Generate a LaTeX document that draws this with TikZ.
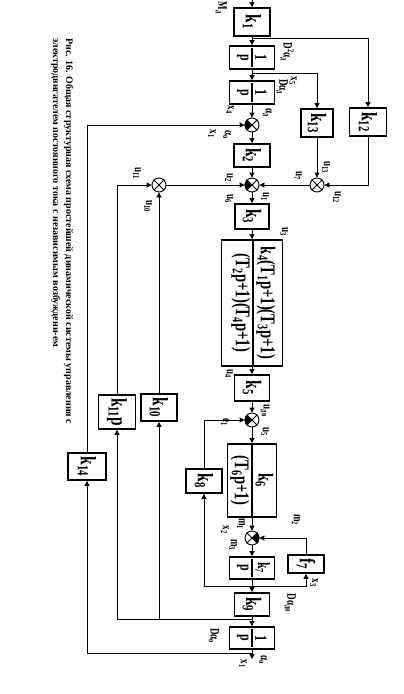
\documentclass[tikz,border=0pt]{standalone}
\usepackage{fontspec}
\setmainfont{Liberation Serif}
\newfontfamily\dgf[FakeStretch=0.7]{Liberation Serif}
\usetikzlibrary{arrows.meta}
\newcommand\crossj[1]{\draw[line width=0.8pt] (#1.45) -- (#1.225) (#1.135) -- (#1.315);}
\newcommand\fillL[1]{\fill (#1.center) -- (#1.135) -- (#1.157) -- (#1.180) -- (#1.203) -- (#1.225) -- cycle;}
\newcommand\fillR[1]{\fill (#1.center) -- (#1.315) -- (#1.338) -- (#1.0) -- (#1.22) -- (#1.45) -- cycle;}
\newcommand\sbs[1]{\textsubscript{#1}}
\begin{document}
\begin{tikzpicture}[x=1pt,y=-1pt,line width=0.9pt,
  blk/.style={draw,line width=1.8pt,inner sep=0pt},
  bx/.style={inner sep=0pt,rotate=-90,font=\dgf\bfseries\fontsize{22}{22}\selectfont},
  fr/.style={inner sep=0pt,rotate=-90,font=\dgf\bfseries\fontsize{17}{17}\selectfont},
  bg/.style={inner sep=0pt,rotate=-90,font=\dgf\bfseries\fontsize{21}{21}\selectfont},
  lb/.style={inner sep=0pt,rotate=-90,font=\dgf\bfseries\fontsize{13}{13}\selectfont},
  captxt/.style={inner sep=0pt,rotate=-90,anchor=base west,font=\bfseries\fontsize{10}{10}\selectfont},
  sj/.style={circle,draw,minimum size=14pt,inner sep=0pt,line width=0.9pt},
  sig/.style={-{Triangle[length=5pt,width=5pt]}},
  dv/.style={line width=1.6pt}]
\path[fill=white,use as bounding box] (0,0) rectangle (404,694);

% ---- main column blocks ----
\node[blk,minimum width=36pt,minimum height=28pt] (k1) at (252,22) {};
\node[bx] (k1t) at (252,22) {k\sbs{1}};
\node[blk,minimum width=45pt,minimum height=23pt] (dp1) at (252,57.5) {};
\node[fr,anchor=south] (dp1n) at (255,57.5) {1};
\node[fr,anchor=north] (dp1d) at (249,57.5) {p};
\draw[dv] (252,48) -- (252,67);
\node[blk,minimum width=45pt,minimum height=23pt] (dp2) at (252,92.5) {};
\node[fr,anchor=south] (dp2n) at (255,92.5) {1};
\node[fr,anchor=north] (dp2d) at (249,92.5) {p};
\draw[dv] (252,83) -- (252,102);
\node[sj] (j1) at (252,125) {};
\crossj{j1}\fillL{j1}
\node[blk,minimum width=36pt,minimum height=23pt] (k2) at (252,155.5) {};
\node[bx] (k2t) at (252,155.5) {k\sbs{2}};
\node[sj] (j2) at (252,185) {};
\crossj{j2}\fillL{j2}
\node[blk,minimum width=34pt,minimum height=25pt] (k3) at (252,216.5) {};
\node[bx] (k3t) at (252,216.5) {k\sbs{3}};
\node[blk,minimum width=61pt,minimum height=126pt] (k4) at (252,303) {};
\node[bg,anchor=south] (k4n) at (256,303) {k\sbs{4}(T\sbs{1}p+1)(T\sbs{3}p+1)};
\node[bg,anchor=north] (k4d) at (251,303) {(T\sbs{2}p+1)(T\sbs{4}p+1)};
\draw[dv] (253,240) -- (253,366);
\node[blk,minimum width=35pt,minimum height=26pt] (k5) at (252,388) {};
\node[bx] (k5t) at (252,388) {k\sbs{5}};
\node[sj] (j5) at (252,420) {};
\crossj{j5}\fillL{j5}
\node[blk,minimum width=49pt,minimum height=73pt] (k6) at (252,480.5) {};
\node[bg,anchor=south] (k6n) at (255,480.5) {k\sbs{6}};
\node[bg,anchor=north] (k6d) at (250,480.5) {(T\sbs{6}p+1)};
\draw[dv] (252,444) -- (252,517);
\node[sj] (j6) at (252,538) {};
\crossj{j6}\fillR{j6}
\node[blk,minimum width=45pt,minimum height=22pt] (k7) at (252,568) {};
\node[fr,anchor=south] (k7n) at (255,568) {k\sbs{7}};
\node[fr,anchor=north] (k7d) at (249,568) {p};
\draw[dv] (252,559) -- (252,577);
\node[blk,minimum width=35pt,minimum height=23pt] (k9) at (252,604.5) {};
\node[bx] (k9t) at (252,604.5) {k\sbs{9}};
\node[blk,minimum width=45pt,minimum height=22pt] (dp3) at (252,638) {};
\node[fr,anchor=south] (dp3n) at (255,638) {1};
\node[fr,anchor=north] (dp3d) at (249,638) {p};
\draw[dv] (252,629) -- (252,647);

% ---- side blocks ----
\node[blk,minimum width=37pt,minimum height=28pt] (k12) at (368,122) {};
\node[bx] (k12t) at (368,122) {k\sbs{12}};
\node[blk,minimum width=32pt,minimum height=28pt] (k13) at (317,123) {};
\node[bx] (k13t) at (317,123) {k\sbs{13}};
\node[sj] (j3) at (317,185) {};
\crossj{j3}
\node[sj] (j4) at (159,185) {};
\crossj{j4}
\node[blk,minimum width=36pt,minimum height=27pt] (k10) at (159,407.5) {};
\node[bx] (k10t) at (159,407.5) {k\sbs{10}};
\node[blk,minimum width=37pt,minimum height=34pt] (k11) at (117,412) {};
\node[bx] (k11t) at (117,412) {k\sbs{11}p};
\node[blk,minimum width=38pt,minimum height=27pt] (k14) at (87,466.5) {};
\node[bx] (k14t) at (87,466.5) {k\sbs{14}};
\node[blk,minimum width=36pt,minimum height=24pt] (k8) at (204,481) {};
\node[bx] (k8t) at (204,481) {k\sbs{8}};
\node[blk,minimum width=36pt,minimum height=18pt] (f7) at (306,564) {};
\node[bx] (f7t) at (306,564) {f\sbs{7}};

% ---- connectors ----
\coordinate (in) at (252,0);
\coordinate (b1) at (252,38);
\coordinate (b2) at (252,73);
\coordinate (b3) at (252,586);
\coordinate (b4) at (252,619);
\coordinate (b5) at (252,653);
\coordinate (out) at (252,659);
\draw[sig] (in) -- (k1);
\draw[sig] (k1) -- (dp1);
\draw[sig] (b1) -| (k12);
\draw[sig] (dp1) -- (dp2);
\draw[sig] (b2) -| (k13);
\draw[sig] (dp2) -- (j1);
\draw[sig] (j1) -- (k2);
\draw[sig] (k2) -- (j2);
\draw[sig] (k13) -- (j3);
\draw[sig] (k12) |- (j3);
\draw[sig] (j3) -- (j2);
\draw[sig] (j4) -- (j2);
\draw[sig] (j2) -- (k3);
\draw[sig] (k3) -- (k4);
\draw[sig] (k4) -- (k5);
\draw[sig] (k5) -- (j5);
\draw[sig] (j5) -- (k6);
\draw[sig] (k6) -- (j6);
\draw[sig] (j6) -- (k7);
\draw[sig] (k7) -- (k9);
\draw[sig] (b3) -| (k8);
\draw[sig] (k8) |- (j5);
\draw[sig] (b3) -| (f7);
\draw[sig] (f7) |- (j6);
\draw[sig] (k9) -- (dp3);
\draw[sig] (b4) -| (k10);
\draw[sig] (b4) -| (k11);
\draw[sig] (k10) -- (j4);
\draw[sig] (k11) |- (j4);
\draw[sig] (dp3) -- (out);
\draw[sig] (b5) -| (k14);
\draw[sig] (k14) |- (j1);

% ---- labels ----
\node[lb] (l1) at (221,8) {M\sbs{д}};
\node[lb] (l2) at (287,52) {D\textsuperscript{2}α\sbs{д}};
\node[lb] (l3) at (293,81) {x\sbs{5}};
\node[lb] (l4) at (282,87) {Dα\sbs{д}};
\node[lb] (l5) at (230,110) {x\sbs{4}};
\node[lb] (l6) at (267,113) {α\sbs{д}};
\node[lb] (l7) at (212,134) {x\sbs{1}};
\node[lb] (l8) at (227,135) {α\sbs{о}};
\node[lb] (l9) at (326,167) {u\sbs{13}};
\node[lb] (l10) at (298,176) {u\sbs{7}};
\node[lb] (l11) at (229,178) {u\sbs{2}};
\node[lb] (l12) at (229,199) {u\sbs{6}};
\node[lb] (l13) at (265,197) {u\sbs{1}};
\node[lb] (l14) at (337,197) {u\sbs{12}};
\node[lb] (l15) at (137,173) {u\sbs{11}};
\node[lb] (l16) at (148,206) {u\sbs{10}};
\node[lb] (l17) at (284,232) {u\sbs{3}};
\node[lb] (l18) at (229,374) {u\sbs{4}};
\node[lb] (l19) at (265,411) {u\sbs{дв}};
\node[lb] (l20) at (265,432) {u\sbs{5}};
\node[lb] (l21) at (225,422) {e\sbs{1}};
\node[lb] (l22) at (225,530) {x\sbs{2}};
\node[lb] (l23) at (241,524) {m\sbs{1}};
\node[lb] (l24) at (233,545) {m\sbs{3}};
\node[lb] (l25) at (296,520) {m\sbs{2}};
\node[lb] (l26) at (314,583) {x\sbs{3}};
\node[lb] (l27) at (290,603) {Dα\sbs{дв}};
\node[lb] (l28) at (214,636) {Dα\sbs{о}};
\node[lb] (l29) at (263,660) {α\sbs{о}};
\node[lb] (l30) at (243,664) {x\sbs{1}};

% ---- caption ----
\node[captxt] (c1) at (66,38) {Рис. 16. Общая структурная схема простейшей динамической системы управления с};
\node[captxt] (c2) at (53,38) {электродвигателем постоянного тока с независимым возбуждени-ем};
\end{tikzpicture}
\end{document}
